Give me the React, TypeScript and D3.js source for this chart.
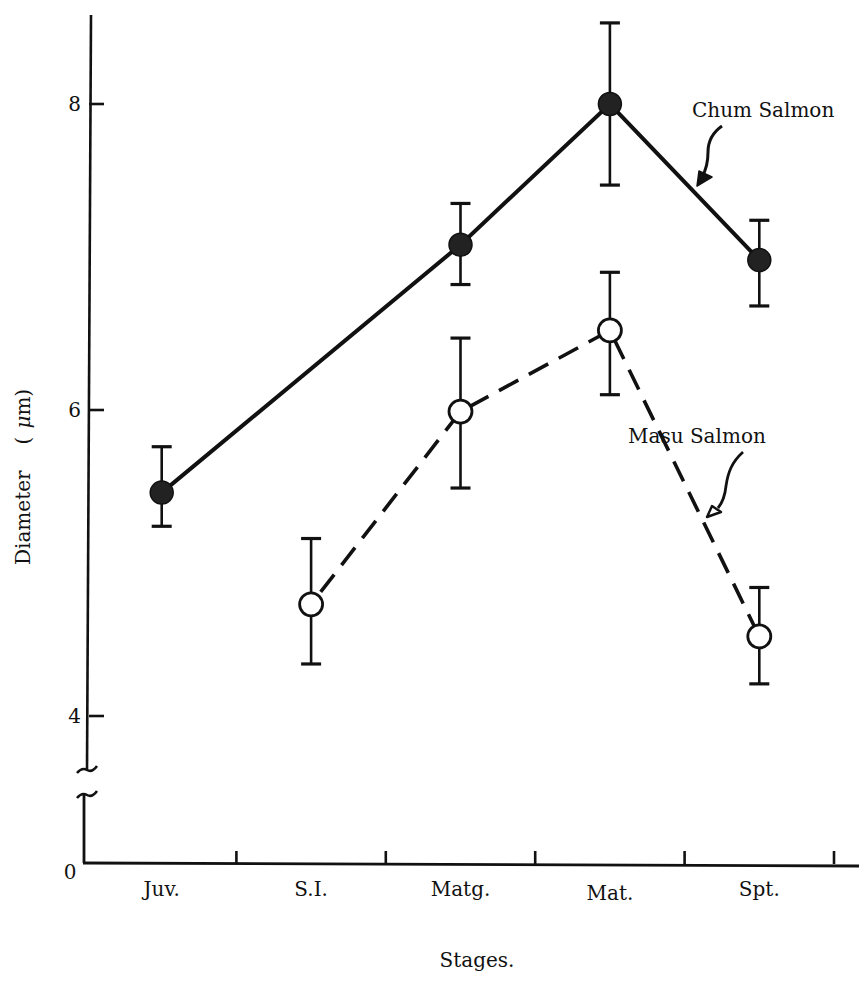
import React from 'react';
import * as d3 from 'd3';

const stages = ['Juv.', 'S.I.', 'Matg.', 'Mat.', 'Spt.'];
const chumStages = ['Juv.', 'Matg.', 'Mat.', 'Spt.'];
const chumMean = [5.46, 7.08, 8.0, 6.98];
const chumLow = [5.24, 6.82, 7.47, 6.68];
const chumHigh = [5.76, 7.35, 8.53, 7.24];
const masuStages = ['S.I.', 'Matg.', 'Mat.', 'Spt.'];
const masuMean = [4.73, 5.99, 6.52, 4.52];
const masuLow = [4.34, 5.49, 6.1, 4.21];
const masuHigh = [5.16, 6.47, 6.9, 4.84];
const yTicks = [4, 6, 8];
const seriesNames = ['Chum Salmon', 'Masu Salmon'];

const FONT = '"DejaVu Serif", "Liberation Serif", serif';

export default function App() {
  const x = d3.scaleBand<string>().domain(stages).range([87, 834]);
  const xc = (s: string) => (x(s) as number) + x.bandwidth() / 2;
  const y = d3.scaleLinear().domain([4, 8]).range([716, 104]);
  const axisX = 89;
  const baseY = 863;

  const chumPts = chumStages.map((s, i) => ({ s, m: chumMean[i], lo: chumLow[i], hi: chumHigh[i] }));
  const masuPts = masuStages.map((s, i) => ({ s, m: masuMean[i], lo: masuLow[i], hi: masuHigh[i] }));
  const line = d3
    .line<{ s: string; m: number }>()
    .x((d) => xc(d.s))
    .y((d) => y(d.m));

  // align the dash pattern so that a dash begins near y=492 on the Mat.->Spt. segment
  const P = masuPts.map((d) => [xc(d.s), y(d.m)]);
  const seg = (a: number[], b: number[]) => Math.hypot(b[0] - a[0], b[1] - a[1]);
  const t = (492 - P[2][1]) / (P[3][1] - P[2][1]);
  const s0 = seg(P[0], P[1]) + seg(P[1], P[2]) + t * seg(P[2], P[3]);
  const dashOffset = ((-s0 % 34) + 34) % 34;

  const ink = '#111';
  const errBars = (pts: typeof chumPts, key: string) =>
    pts.map((d, i) => {
      const cx = xc(d.s);
      return (
        <g key={key + i} stroke={ink} strokeWidth={2.6}>
          <line x1={cx} x2={cx} y1={y(d.hi)} y2={y(d.lo)} />
          <line x1={cx - 10} x2={cx + 10} y1={y(d.hi)} y2={y(d.hi)} strokeWidth={3.2} />
          <line x1={cx - 10} x2={cx + 10} y1={y(d.lo)} y2={y(d.lo)} strokeWidth={3.2} />
        </g>
      );
    });

  return (
    <svg
      width={859}
      height={983}
      style={{ position: 'absolute', left: 0, top: 0, background: '#fff' }}
      fontFamily={FONT}
    >
      <rect width={859} height={983} fill="#fff" />
      {/* y axis upper segment */}
      <line x1={91} y1={15} x2={87} y2={770} stroke={ink} strokeWidth={2.6} />
      <path d="M77,773 q5,-6 10,-3 t10,-4" fill="none" stroke={ink} strokeWidth={2.6} />
      {/* y axis lower segment */}
      <path d="M77,798 q5,-6 10,-3 t10,-4" fill="none" stroke={ink} strokeWidth={2.6} />
      <line x1={84} y1={795} x2={84} y2={baseY} stroke={ink} strokeWidth={2.8} />
      {yTicks.map((tk) => (
        <g key={tk}>
          <line x1={axisX} x2={axisX + 15} y1={y(tk)} y2={y(tk)} stroke={ink} strokeWidth={2.6} />
          <text x={81} y={y(tk)} dy="0.36em" textAnchor="end" fontSize={20} fill={ink}>
            {tk}
          </text>
        </g>
      ))}
      <text x={70} y={872} dy="0.36em" textAnchor="middle" fontSize={20} fill={ink}>
        0
      </text>
      {/* x axis */}
      <line x1={83} y1={baseY} x2={859} y2={baseY + 3} stroke={ink} strokeWidth={2.8} />
      {stages.map((s) => {
        const tx = (x(s) as number) + x.bandwidth();
        return <line key={'t' + s} x1={tx} x2={tx} y1={baseY + 1} y2={baseY - 12} stroke={ink} strokeWidth={2.6} />;
      })}
      {stages.map((s) => (
        <text key={'l' + s} x={xc(s)} y={s === 'Mat.' ? 900 : 896} textAnchor="middle" fontSize={20} fill={ink}>
          {s}
        </text>
      ))}
      <text x={477} y={967} textAnchor="middle" fontSize={20} fill={ink}>
        Stages.
      </text>
      <text transform="translate(30,565) rotate(-90)" fontSize={20} fill={ink}>
        Diameter
        <tspan dx={26}>(</tspan>
        <tspan dx={8} fontStyle="italic">μ</tspan>
        <tspan>m)</tspan>
      </text>

      {/* lines */}
      <path d={line(chumPts) || ''} fill="none" stroke={ink} strokeWidth={4} />
      <path
        d={line(masuPts) || ''}
        fill="none"
        stroke={ink}
        strokeWidth={3.6}
        strokeDasharray="22 12"
        strokeDashoffset={dashOffset}
      />

      {errBars(chumPts, 'c')}
      {errBars(masuPts, 'm')}

      {chumPts.map((d, i) => (
        <circle key={'cc' + i} cx={xc(d.s)} cy={y(d.m)} r={11.5} fill="#222" stroke={ink} strokeWidth={1.5} />
      ))}
      {masuPts.map((d, i) => (
        <circle key={'mc' + i} cx={xc(d.s)} cy={y(d.m)} r={11.5} fill="#fff" stroke={ink} strokeWidth={2.8} />
      ))}

      {/* annotations */}
      <text x={692} y={117} fontSize={20} fill={ink}>
        {seriesNames[0]}
      </text>
      <path d="M722,126 C712,133 708,141 708,152 C708,162 706,170 702,177" fill="none" stroke={ink} strokeWidth={3} />
      <polygon points="697,186 699,171 712,177" fill={ink} stroke={ink} strokeWidth={1.5} strokeLinejoin="round" />

      <text x={628} y={443} fontSize={20} fill={ink}>
        {seriesNames[1]}
      </text>
      <path d="M743,452 C732,462 728,472 726,486 C725,496 723,502 718,508" fill="none" stroke={ink} strokeWidth={2.8} />
      <polygon points="707,517 712,506 721,512" fill="#fff" stroke={ink} strokeWidth={2.4} strokeLinejoin="round" />
    </svg>
  );
}
